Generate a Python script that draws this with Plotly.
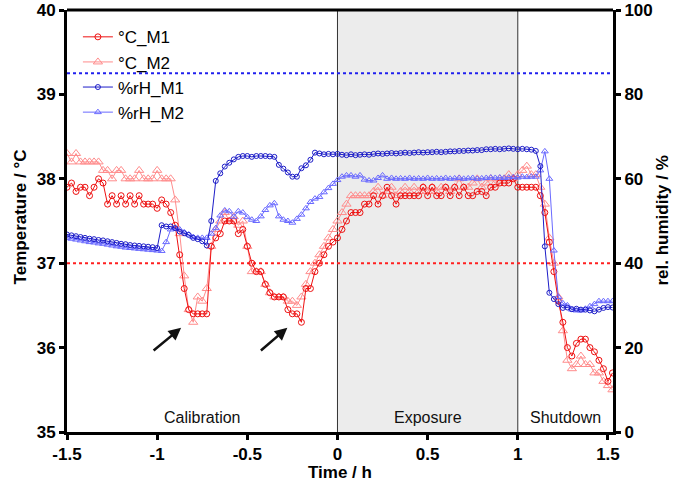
import plotly.graph_objects as go

# time grid in hours (-1.5 ... 1.525, step 0.025 h)
time_h = [round(-1.5 + 0.025 * i, 3) for i in range(122)]

temp_M1 = [37.9, 37.95, 37.85, 37.9, 37.9, 37.8, 37.9, 38.0, 37.95, 37.7,
           37.8, 37.7, 37.8, 37.7, 37.8, 37.7, 37.8, 37.7, 37.7, 37.7,
           37.65, 37.75, 37.7, 37.6, 37.45, 37.1, 36.7, 36.45, 36.4, 36.4,
           36.4, 36.4, 37.2, 37.3, 37.35, 37.5, 37.5, 37.5, 37.35, 37.4,
           37.2, 37.0, 36.9, 36.9, 36.75, 36.65, 36.6, 36.6, 36.6, 36.45,
           36.4, 36.4, 36.3, 36.7, 36.7, 36.9, 37.0, 37.1, 37.2, 37.25,
           37.3, 37.4, 37.5, 37.6, 37.6, 37.6, 37.7, 37.7, 37.8, 37.7,
           37.8, 37.9, 37.8, 37.7, 37.8, 37.8, 37.8, 37.8, 37.8, 37.9,
           37.8, 37.9, 37.8, 37.8, 37.9, 37.8, 37.9, 37.8, 37.9, 37.8,
           37.8, 37.85, 37.85, 37.8, 37.9, 37.9, 37.95, 37.95, 37.95, 38.0,
           37.9, 37.9, 37.9, 37.9, 37.9, 37.8, 37.6, 37.25, 36.9, 36.55,
           36.3, 36.0, 35.9, 36.05, 36.1, 36.1, 36.0, 35.95, 35.85, 35.75,
           35.6, 35.7]

temp_M2 = [38.3, 38.2, 38.3, 38.2, 38.2, 38.2, 38.2, 38.2, 38.1, 38.1,
           38.0, 38.1, 38.1, 38.0, 38.0, 38.0, 38.1, 38.0, 38.0, 38.0,
           38.1, 38.0, 38.0, 38.0, 37.75, 37.35, 36.85, 36.45, 36.3, 36.6,
           36.55, 36.7, 37.2, 37.4, 37.5, 37.6, 37.5, 37.55, 37.45, 37.5,
           37.2, 36.9, 36.9, 36.9, 36.75, 36.65, 36.6, 36.6, 36.6, 36.55,
           36.55, 36.5, 36.6, 36.75, 36.9, 37.0, 37.1, 37.2, 37.3, 37.4,
           37.5, 37.6, 37.7, 37.8, 37.8, 37.8, 37.8, 37.8, 37.85, 37.9,
           37.8, 37.85, 37.9, 37.8, 37.85, 37.9, 37.85, 37.9, 37.85, 37.9,
           37.85, 37.9, 37.85, 37.9, 37.9, 37.85, 37.9, 38.0, 37.9, 37.9,
           37.95, 38.0, 37.9, 37.95, 38.0, 37.95, 38.0, 38.0, 38.05, 38.0,
           38.05, 38.1, 38.15, 38.05, 38.05, 37.9, 37.7, 37.3, 37.0, 36.6,
           36.2, 35.85, 35.75, 35.8, 35.9, 35.8, 35.8, 35.7, 35.7, 35.6,
           35.55, 35.5]

rh_M1 = [46.8, 46.6, 46.4, 46.2, 46.0, 45.8, 45.7, 45.5, 45.4, 45.2,
         45.0, 44.8, 44.6, 44.5, 44.3, 44.2, 44.1, 44.0, 43.9, 43.8,
         43.6, 49.0, 48.7, 48.7, 48.3, 47.5, 47.1, 46.7, 46.0, 45.7,
         45.2, 44.2, 50.0, 59.5, 61.3, 62.9, 63.8, 64.6, 65.2, 65.4,
         65.4, 65.2, 65.4, 65.4, 65.4, 65.3, 65.2, 63.3, 62.4, 61.5,
         60.5, 60.5, 62.5, 63.2, 64.5, 66.2, 66.0, 65.8, 65.9, 65.8,
         65.9, 65.7, 65.6, 65.8, 65.6, 65.7, 65.8, 65.7, 65.9, 66.0,
         65.9, 66.0, 66.1, 66.0, 66.1, 66.2, 66.1, 66.2, 66.3, 66.2,
         66.3, 66.3, 66.4, 66.3, 66.4, 66.5, 66.5, 66.6, 66.6, 66.7,
         66.7, 66.8, 66.8, 67.0, 67.0, 67.1, 67.0, 67.1, 67.2, 67.1,
         67.0, 67.1, 67.0, 66.9, 66.6, 63.0, 44.0, 33.0, 31.5, 30.3,
         29.4, 29.5, 29.1, 29.2, 29.0, 29.0, 28.8, 28.6, 29.0, 29.4,
         29.6, 29.5]

rh_M2 = [46.0, 45.8, 45.6, 45.4, 45.2, 45.0, 44.9, 44.7, 44.6, 44.4,
         44.2, 44.0, 43.9, 43.7, 43.6, 43.5, 43.4, 43.3, 43.2, 43.1,
         43.0, 42.9, 45.0, 48.0, 48.3, 48.0, 47.3, 46.8, 46.2, 46.0,
         46.0, 46.0, 47.0, 48.3, 51.3, 52.5, 52.3, 51.0, 52.3, 52.0,
         50.9, 50.3, 50.0, 51.1, 52.6, 53.7, 54.2, 51.1, 50.3, 50.0,
         49.6, 50.5, 51.5, 53.0, 54.5, 55.3, 55.7, 56.8, 57.8, 58.8,
         59.7, 60.5, 60.8, 60.8, 60.5, 60.8, 59.8, 59.6, 59.6, 60.2,
         60.8, 60.0, 60.2, 60.0, 60.1, 60.0, 60.2, 60.0, 60.1, 60.0,
         60.2, 60.0, 60.1, 60.0, 60.2, 60.0, 60.1, 60.2, 60.0, 60.1,
         60.2, 60.0, 60.1, 60.2, 60.3, 60.2, 60.3, 60.2, 60.3, 60.4,
         60.3, 60.5, 60.4, 60.5, 60.5, 62.0, 66.5, 60.0, 43.0, 32.0,
         30.5, 30.0, 29.0, 28.8, 28.8, 29.2, 29.8, 30.3, 31.0, 31.0,
         31.0, 31.0]

x_ticks = [-1.5, -1, -0.5, 0, 0.5, 1, 1.5]
x_ticktext = ["-1.5", "-1", "-0.5", "0", "0.5", "1", "1.5"]
phases = [("Calibration", -0.75), ("Exposure", 0.5), ("Shutdown", 1.265)]
exposure_window = [0, 1]
temp_ref = 37
rh_ref = 85
arrows = [(-0.867, 36.235, -1.028, 35.95), (-0.278, 36.235, -0.433, 35.95)]

FONT = "Liberation Sans, Arial, sans-serif"
C_M1 = "#ee1111"
C_M2 = "#ff8c8c"
B_M1 = "#1c1cc8"
B_M2 = "#6a6aff"
X_MAX = 1.528

fig = go.Figure()
fig.add_trace(go.Scatter(x=time_h, y=temp_M2, name="°C_M2", mode="lines+markers",
                         line=dict(color=C_M2, width=1),
                         marker=dict(symbol="triangle-up-open", size=8, color=C_M2, line=dict(width=1)),
                         legendrank=2))
fig.add_trace(go.Scatter(x=time_h, y=temp_M1, name="°C_M1", mode="lines+markers",
                         line=dict(color=C_M1, width=1),
                         marker=dict(symbol="circle-open", size=6, color=C_M1, line=dict(width=1)),
                         legendrank=1))
fig.add_trace(go.Scatter(x=time_h, y=rh_M2, name="%rH_M2", mode="lines+markers", yaxis="y2",
                         line=dict(color=B_M2, width=1),
                         marker=dict(symbol="triangle-up-open", size=6, color=B_M2, line=dict(width=1)),
                         legendrank=4))
fig.add_trace(go.Scatter(x=time_h, y=rh_M1, name="%rH_M1", mode="lines+markers", yaxis="y2",
                         line=dict(color=B_M1, width=1),
                         marker=dict(symbol="circle-open", size=5, color=B_M1, line=dict(width=1)),
                         legendrank=3))

shapes = [
    dict(type="rect", xref="x", yref="paper", x0=exposure_window[0], x1=exposure_window[1],
         y0=0, y1=1, fillcolor="#ececec", line=dict(width=0), layer="below"),
    dict(type="line", xref="x", yref="paper", x0=exposure_window[0], x1=exposure_window[0],
         y0=0, y1=1, line=dict(color="#333333", width=1), layer="below"),
    dict(type="line", xref="x", yref="paper", x0=exposure_window[1], x1=exposure_window[1],
         y0=0, y1=1, line=dict(color="#333333", width=1), layer="below"),
    dict(type="line", xref="x", yref="y", x0=-1.5, x1=X_MAX, y0=temp_ref, y1=temp_ref,
         line=dict(color="#ff2020", width=2, dash="dot"), layer="below"),
    dict(type="line", xref="x", yref="y2", x0=-1.5, x1=X_MAX, y0=rh_ref, y1=rh_ref,
         line=dict(color="#2020ee", width=2, dash="dot"), layer="below"),
    dict(type="line", xref="paper", yref="paper", x0=0, x1=1, y0=1, y1=1,
         line=dict(color="black", width=3), layer="above"),
]

annotations = []
for label, xp in phases:
    annotations.append(dict(x=xp, y=35.17, xref="x", yref="y", text=label, showarrow=False,
                            font=dict(family=FONT, size=16, color="#111111")))
for hx, hy, tx, ty in arrows:
    annotations.append(dict(x=hx, y=hy, ax=tx, ay=ty, xref="x", yref="y", axref="x", ayref="y",
                            text="", showarrow=True, arrowhead=2, arrowsize=1, arrowwidth=2.5,
                            arrowcolor="#111111"))
annotations += [
    dict(x=-0.106, y=0.51, xref="paper", yref="paper", text="<b>Temperature / °C</b>",
         textangle=-90, showarrow=False, font=dict(family=FONT, size=17, color="black")),
    dict(x=1.11, y=0.5, xref="paper", yref="paper", text="<b>rel. humidity / %</b>",
         textangle=-90, showarrow=False, font=dict(family=FONT, size=17, color="black")),
    dict(x=0.5, y=-0.097, xref="paper", yref="paper", yanchor="middle", text="<b>Time / h</b>",
         showarrow=False, font=dict(family=FONT, size=17, color="black")),
]

axis_common = dict(showgrid=False, zeroline=False, showline=True, linecolor="black", linewidth=3,
                   ticks="outside", ticklen=5, tickwidth=2.5, tickcolor="black", automargin=False,
                   ticklabeloverflow="allow",
                   tickfont=dict(family=FONT, size=17, color="black", weight="bold"))

fig.update_layout(
    width=686, height=493,
    margin=dict(l=67, r=73, t=10, b=61, autoexpand=False),
    paper_bgcolor="white", plot_bgcolor="white",
    font=dict(family=FONT, color="black"),
    shapes=shapes, annotations=annotations,
    xaxis=dict(range=[-1.5, X_MAX], tickvals=x_ticks, ticktext=x_ticktext,
               **axis_common),
    yaxis=dict(range=[35, 40], dtick=1, **axis_common),
    yaxis2=dict(range=[0, 100], dtick=20, overlaying="y", side="right", **axis_common),
    legend=dict(x=0.02, y=0.978, xanchor="left", yanchor="top", bgcolor="rgba(0,0,0,0)",
                font=dict(family=FONT, size=17, color="black"), itemwidth=30,
                traceorder="normal"),
    showlegend=True,
)

fig.write_html("out.html")
